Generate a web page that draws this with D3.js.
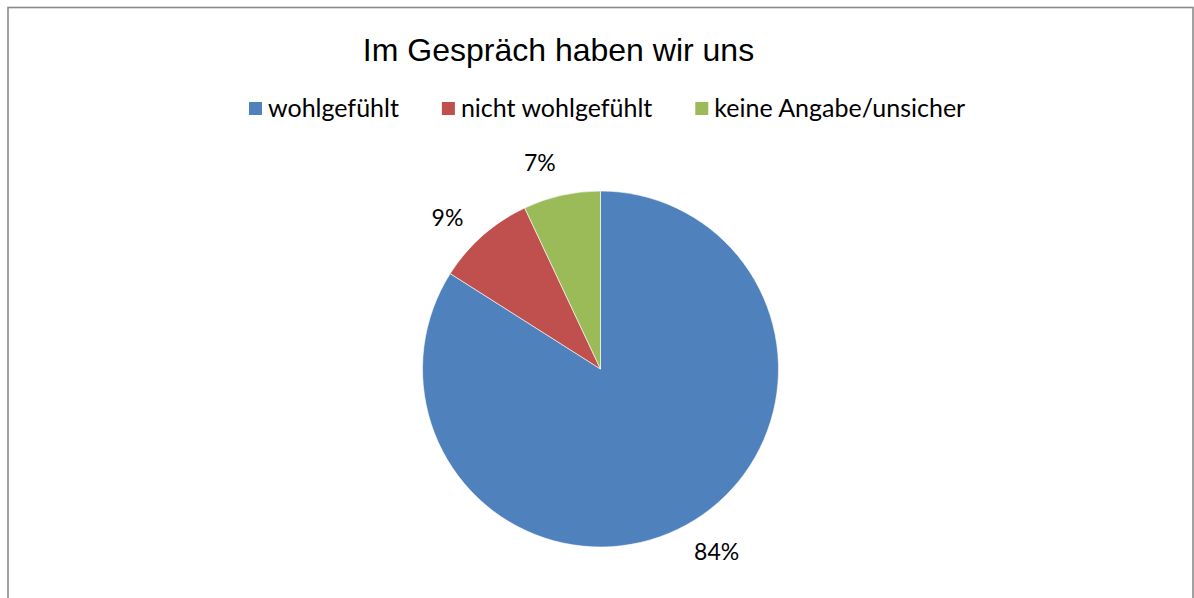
<!DOCTYPE html>
<html>
<head>
<meta charset="utf-8">
<script src="https://cdn.jsdelivr.net/npm/d3@7"></script>
<style>
  body { margin: 0; background: #fff; }
  svg { display: block; }
</style>
</head>
<body>
<div id="chart"></div>
<script>
// data
var categories = ["wohlgefühlt", "nicht wohlgefühlt", "keine Angabe/unsicher"];
var shares = [84, 9, 7];
var colors = ["#4F81BD", "#C0504D", "#9BBB59"];
var title = "Im Gespräch haben wir uns";

const W = 1194, H = 598;
const cx = 600.5, cy = 369, r = 178;

var svg = d3.select("#chart")
  .append("svg")
  .attr("width", W)
  .attr("height", H);

// chart frame
svg.append("rect")
  .attr("x", 8)
  .attr("y", 7.5)
  .attr("width", 1185)
  .attr("height", 620)
  .attr("fill", "#fff")
  .attr("stroke", "#8a8a8a")
  .attr("stroke-width", 1.6);

svg.append("text")
  .attr("x", 558.5)
  .attr("y", 61)
  .attr("text-anchor", "middle")
  .style("font-family", "'Liberation Sans', Arial, sans-serif")
  .style("font-size", "32px")
  .attr("fill", "#000")
  .text(title);

// legend, laid out left to right
var legend = svg.append("g").attr("transform", "translate(249,0)");
var lx = 0;
categories.forEach(function(c, i) {
  var g = legend.append("g").attr("transform", "translate(" + lx + ",0)");
  g.append("rect")
    .attr("x", 0)
    .attr("y", 102)
    .attr("width", 13)
    .attr("height", 13)
    .attr("fill", colors[i]);
  var t = g.append("text")
    .attr("x", 19)
    .attr("y", 117)
    .style("font-family", "Lato, 'Open Sans', sans-serif")
    .style("font-size", "25px")
    .attr("fill", "#000")
    .text(c);
  lx += 19 + t.node().getComputedTextLength() + 43;
});

var pie = d3.pie()
  .sort(null)
  .value(function(d) { return d; });

var arc = d3.arc().innerRadius(0).outerRadius(r);

var arcs = pie(shares);

var g = svg.append("g").attr("transform", "translate(" + cx + "," + cy + ")");

g.selectAll(".slice")
  .data(arcs)
  .enter()
  .append("path")
  .attr("class", "slice")
  .attr("d", arc)
  .attr("fill", function(d, i) { return colors[i]; })
  .attr("stroke", "#fff")
  .attr("stroke-width", 0.6);

// outside-end labels
var labelR = 216, shift = -0.065;
g.selectAll(".lbl")
  .data(arcs)
  .enter()
  .append("text")
  .attr("class", "lbl")
  .attr("x", function(d) { return labelR * Math.sin((d.startAngle + d.endAngle) / 2 + shift); })
  .attr("y", function(d) { return -labelR * Math.cos((d.startAngle + d.endAngle) / 2 + shift); })
  .attr("text-anchor", "middle")
  .attr("dominant-baseline", "central")
  .style("font-family", "Lato, 'Open Sans', sans-serif")
  .style("font-size", "23px")
  .attr("fill", "#000")
  .text(function(d) { return d.data + "%"; });
</script>
</body>
</html>
